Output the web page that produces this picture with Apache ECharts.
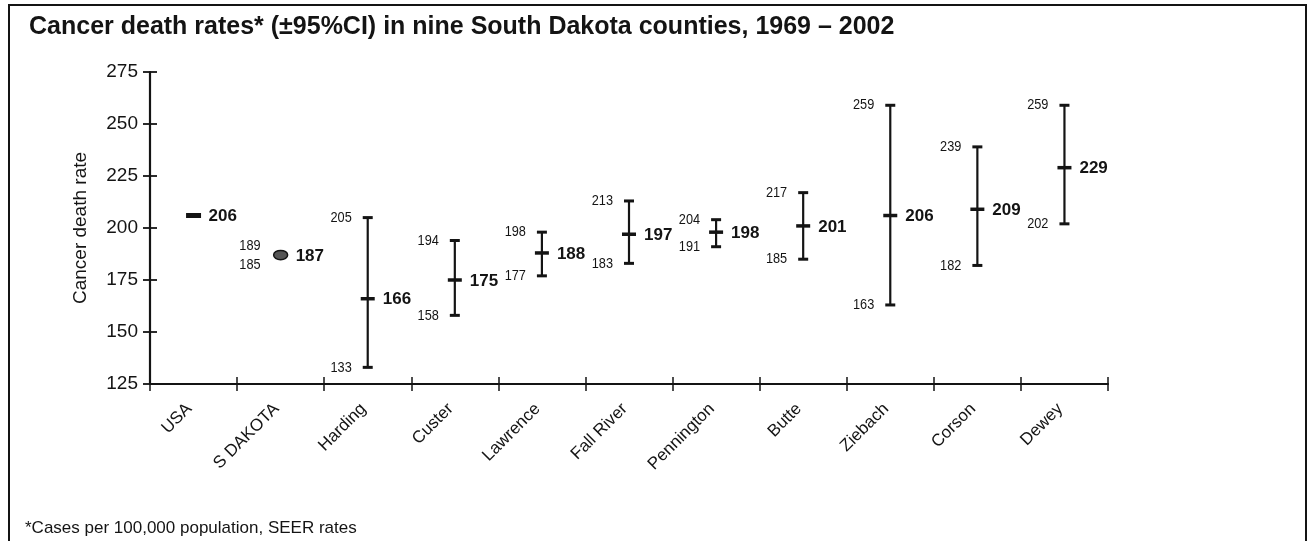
<!DOCTYPE html>
<html><head><meta charset="utf-8">
<script src="https://cdn.jsdelivr.net/npm/echarts@6/dist/echarts.min.js"></script>
<style>html,body{margin:0;padding:0;background:#fff}#c{width:1308px;height:541px}</style>
</head><body><div id="c"></div>
<script>
const categories = ['USA','S DAKOTA','Harding','Custer','Lawrence','Fall River','Pennington','Butte','Ziebach','Corson','Dewey'];
const rates = [206,187,166,175,188,197,198,201,206,209,229];
const lower = [null,185,133,158,177,183,191,185,163,182,202];
const upper = [null,189,205,194,198,213,204,217,259,239,259];
const yMin = 125, yMax = 275, yStep = 25;
const titleText = 'Cancer death rates* (\u00B195%CI) in nine South Dakota counties, 1969 \u2013 2002';
const footText = '*Cases per 100,000 population, SEER rates';
const yName = 'Cancer death rate';

const FONT = '"Liberation Sans", Arial, Helvetica, sans-serif';
const ink = '#141414';

function renderItem(params, api) {
  const i = params.dataIndex;
  const m = rates[i], lo = lower[i], hi = upper[i];
  const c = api.coord([i, m]);
  const x = c[0], ym = c[1];
  const ch = [];
  let sideOff = 16;
  if (lo == null) {
    ch.push({type:'rect', shape:{x:x-7.5, y:ym-2.5, width:15, height:5}, style:{fill:ink}});
  } else {
    const yl = api.coord([i, lo])[1], yh = api.coord([i, hi])[1];
    if (yl - yh < 14) {
      ch.push({type:'ellipse', shape:{cx:x, cy:(yl+yh)/2, rx:7, ry:Math.max((yl-yh)/2+0.5, 4.5)},
        style:{fill:'#555', stroke:ink, lineWidth:1.5}});
      sideOff = 20;
    } else {
      ch.push({type:'line', shape:{x1:x, y1:yh, x2:x, y2:yl}, style:{stroke:ink, lineWidth:2.2}});
      ch.push({type:'line', shape:{x1:x-5, y1:yh, x2:x+5, y2:yh}, style:{stroke:ink, lineWidth:3}});
      ch.push({type:'line', shape:{x1:x-5, y1:yl, x2:x+5, y2:yl}, style:{stroke:ink, lineWidth:3}});
      ch.push({type:'line', shape:{x1:x-7, y1:ym, x2:x+7, y2:ym}, style:{stroke:ink, lineWidth:3.5}});
    }
    let th = yh, tl = yl;
    if (tl - th < 19) { const mid = (tl+th)/2; th = mid-9.5; tl = mid+9.5; }
    [[hi, th], [lo, tl]].forEach(function (p) {
      ch.push({type:'text', x:x-sideOff, y:p[1], scaleX:0.85,
        style:{text:String(p[0]), font:'15px ' + FONT, fill:ink, align:'right', verticalAlign:'middle'}});
    });
  }
  ch.push({type:'text', x:x+15, y:ym+1,
    style:{text:String(m), font:'bold 17px ' + FONT, fill:ink, align:'left', verticalAlign:'middle'}});
  return {type:'group', children:ch};
}

const chart = echarts.init(document.getElementById('c'), null, {renderer:'canvas'});
const baseX = {type:'category', data:categories, gridIndex:0, position:'bottom'};
const baseY = {type:'value', min:yMin, max:yMax, interval:yStep, position:'left'};
chart.setOption({
  animation:false,
  backgroundColor:'#fff',
  title:{text:titleText, left:24, top:10,
    textStyle:{fontFamily:FONT, fontSize:25, fontWeight:'bold', color:ink}},
  grid:{left:150, right:200, top:72, bottom:157, outerBoundsMode:'none'},
  xAxis:[
    Object.assign({}, baseX, {
      axisLine:{show:true, lineStyle:{color:ink, width:2.2}},
      axisTick:{show:true, inside:false, length:7, lineStyle:{color:ink, width:1.5}},
      axisLabel:{rotate:45, margin:18, padding:[0, 6, 0, 0], fontFamily:FONT, fontSize:17, color:ink},
      splitLine:{show:false}
    }),
    Object.assign({}, baseX, {
      axisLine:{show:false},
      axisTick:{show:true, inside:true, length:7, lineStyle:{color:ink, width:1.5}},
      axisLabel:{show:false}, splitLine:{show:false}
    })
  ],
  yAxis:[
    Object.assign({}, baseY, {
      name:yName, nameLocation:'middle', nameRotate:90, nameGap:60,
      nameTextStyle:{fontFamily:FONT, fontSize:19, color:ink},
      axisLine:{show:true, lineStyle:{color:ink, width:2.2}},
      axisTick:{show:true, inside:false, length:7, lineStyle:{color:ink, width:1.8}},
      axisLabel:{margin:12, fontFamily:FONT, fontSize:19, color:ink},
      splitLine:{show:false}
    }),
    Object.assign({}, baseY, {
      axisLine:{show:false},
      axisTick:{show:true, inside:true, length:7, lineStyle:{color:ink, width:1.8}},
      axisLabel:{show:false}, splitLine:{show:false}
    })
  ],
  series:[{
    type:'custom', xAxisIndex:0, yAxisIndex:0,
    renderItem:renderItem,
    data:categories.map(function (_, i) { return [i, rates[i]]; }),
    encode:{x:0, y:1}, clip:false
  }],
  graphic:[
    {type:'rect', shape:{x:9, y:5, width:1297, height:600}, style:{fill:'none', stroke:ink, lineWidth:2}, silent:true},
    {type:'text', x:25, y:528, style:{text:footText, font:'17px ' + FONT, fill:ink, verticalAlign:'middle'}}
  ]
});
</script></body></html>
